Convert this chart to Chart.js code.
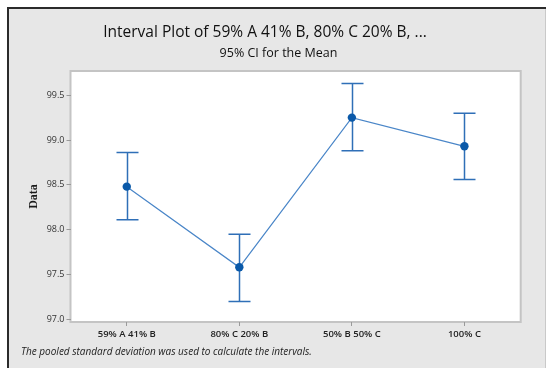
<!DOCTYPE html>
<html>
<head>
<meta charset="utf-8">
<script src="https://cdn.jsdelivr.net/npm/chart.js@4"></script>
<style>
  html, body { margin: 0; padding: 0; background: #fff; }
  #wrap { width: 547px; height: 368px; }
</style>
</head>
<body>
<div id="wrap"><canvas id="interval-chart" width="547" height="368"></canvas></div>
<script>
const categories = ['59% A 41% B', '80% C 20% B', '50% B 50% C', '100% C'];
const means = [98.48, 97.58, 99.25, 98.93];
const lowerCI = [98.11, 97.20, 98.88, 98.56];
const upperCI = [98.86, 97.95, 99.63, 99.30];
const yTicks = [97.0, 97.5, 98.0, 98.5, 99.0, 99.5];

const titleText = 'Interval Plot of 59% A 41% B, 80% C 20% B, ...';
const subtitleText = '95% CI for the Mean';
const footnoteText = 'The pooled standard deviation was used to calculate the intervals.';

const SANS = '"Open Sans", "Noto Sans", sans-serif';

// gray panel with frame, white plot area behind the data
const panelPlugin = {
    id: 'panel',
    beforeDraw(chart) {
        const { ctx, chartArea: a } = chart;
        ctx.save();
        ctx.fillStyle = '#ffffff';
        ctx.fillRect(0, 0, chart.width, chart.height);
        ctx.fillStyle = '#e7e7e7';
        ctx.fillRect(8, 8, 538, chart.height);
        ctx.strokeStyle = '#c9c9c9';
        ctx.lineWidth = 1;
        ctx.beginPath();
        ctx.moveTo(545.5, 8);
        ctx.lineTo(545.5, chart.height);
        ctx.stroke();
        ctx.strokeStyle = '#2b2b2b';
        ctx.lineWidth = 2;
        ctx.beginPath();
        ctx.moveTo(8, chart.height);
        ctx.lineTo(8, 8);
        ctx.lineTo(546, 8);
        ctx.stroke();
        ctx.fillStyle = '#ffffff';
        ctx.fillRect(a.left, a.top, a.right - a.left, a.bottom - a.top);
        ctx.strokeStyle = '#c4c4c4';
        ctx.lineWidth = 2;
        ctx.strokeRect(a.left, a.top, a.right - a.left, a.bottom - a.top);
        ctx.restore();
    }
};

// confidence interval whiskers from lowerCI / upperCI
const errorBarPlugin = {
    id: 'errorBars',
    beforeDatasetsDraw(chart) {
        const { ctx, scales: { x, y } } = chart;
        const cap = 11;
        ctx.save();
        ctx.strokeStyle = '#2f6fb7';
        ctx.lineWidth = 1.5;
        categories.forEach((_, i) => {
            const px = Math.round(x.getPixelForValue(i)) + 0.5;
            const lo = y.getPixelForValue(lowerCI[i]);
            const hi = y.getPixelForValue(upperCI[i]);
            ctx.beginPath();
            ctx.moveTo(px, lo);
            ctx.lineTo(px, hi);
            ctx.moveTo(px - cap, hi);
            ctx.lineTo(px + cap, hi);
            ctx.moveTo(px - cap, lo);
            ctx.lineTo(px + cap, lo);
            ctx.stroke();
        });
        ctx.restore();
    }
};

const textPlugin = {
    id: 'chartText',
    afterDraw(chart) {
        const ctx = chart.ctx;
        ctx.save();
        ctx.fillStyle = '#111';
        ctx.textAlign = 'center';
        ctx.textBaseline = 'alphabetic';
        ctx.font = '500 15.5px ' + SANS;
        ctx.fillText(titleText, 265, 37);
        ctx.font = '12.5px ' + SANS;
        ctx.fillText(subtitleText, 278.5, 57);
        ctx.textAlign = 'left';
        ctx.fillStyle = '#222';
        ctx.font = 'italic 10px ' + SANS;
        ctx.fillText(footnoteText, 21, 355);
        ctx.restore();
    }
};

new Chart(document.getElementById('interval-chart'), {
    type: 'line',
    data: {
        labels: categories,
        datasets: [{
            label: 'Mean',
            data: means,
            borderColor: '#4a86c8',
            borderWidth: 1.2,
            pointRadius: 4.2,
            pointBackgroundColor: '#0a59a9',
            pointBorderColor: '#0a59a9',
            pointBorderWidth: 0,
            tension: 0
        }]
    },
    plugins: [panelPlugin, errorBarPlugin, textPlugin],
    options: {
        responsive: false,
        animation: false,
        devicePixelRatio: 1,
        layout: {
            padding: { left: 22.5, top: 71, right: 26.3, bottom: 21 }
        },
        plugins: {
            legend: { display: false },
            tooltip: { enabled: false }
        },
        scales: {
            x: {
                type: 'category',
                offset: true,
                border: { display: false },
                grid: { drawOnChartArea: false, drawTicks: true, tickLength: 4, color: '#9a9a9a', offset: false },
                ticks: {
                    color: '#222',
                    padding: 3,
                    maxRotation: 0,
                    font: { family: SANS, size: 9.5, weight: '600' }
                },
                afterFit: s => { s.height = 25; }
            },
            y: {
                min: 96.97,
                max: 99.77,
                border: { display: false },
                grid: { drawOnChartArea: false, drawTicks: true, tickLength: 4, color: '#9a9a9a' },
                afterBuildTicks: s => { s.ticks = yTicks.map(v => ({ value: v })); },
                ticks: {
                    color: '#333',
                    padding: 2,
                    font: { family: SANS, size: 9 },
                    callback: v => Number(v).toFixed(1)
                },
                title: {
                    display: true,
                    text: 'Data',
                    color: '#1a1a1a',
                    padding: { top: 4, bottom: 0 },
                    font: { family: '"Liberation Serif", serif', size: 12, weight: 'bold' }
                },
                afterFit: s => { s.width = 48; }
            }
        }
    }
});
</script>
</body>
</html>
